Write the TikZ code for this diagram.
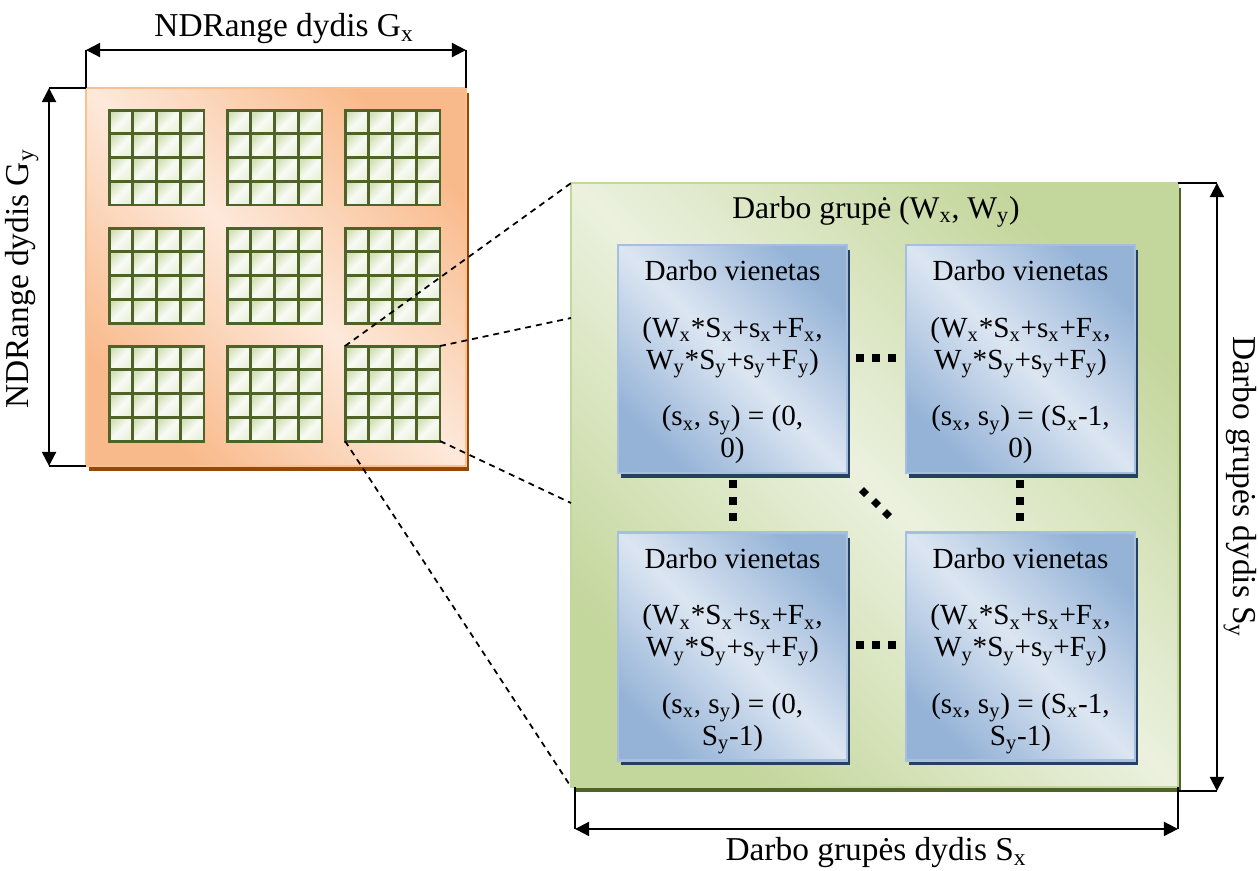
\documentclass[tikz,border=0pt]{standalone}
\usepackage{fontspec}
\setmainfont{Liberation Serif}
\usetikzlibrary{arrows.meta,positioning,shadows}

\definecolor{orangeLight}{HTML}{FDE9DB}
\definecolor{orangeDark}{HTML}{F9BA8B}
\definecolor{orangeEdge}{HTML}{FAC090}
\definecolor{orangeShadow}{HTML}{984806}
\definecolor{greenLight}{HTML}{EBF1DE}
\definecolor{greenDark}{HTML}{C3D69B}
\definecolor{greenShadow}{HTML}{4F6228}
\definecolor{blueLight}{HTML}{DCE6F2}
\definecolor{blueDark}{HTML}{95B3D7}
\definecolor{blueEdge}{HTML}{A7BFDE}
\definecolor{blueShadow}{HTML}{254061}
\definecolor{cellDark}{HTML}{D3E1B8}
\definecolor{cellLine}{HTML}{4F6228}

\newcommand{\wiLabel}[2]{Darbo vienetas\\[14pt]
(W\textsubscript{x}*S\textsubscript{x}+s\textsubscript{x}+F\textsubscript{x},\\
W\textsubscript{y}*S\textsubscript{y}+s\textsubscript{y}+F\textsubscript{y})\\[14pt]
(s\textsubscript{x}, s\textsubscript{y}) = (#1,\\ #2)}

\begin{document}
\begin{tikzpicture}[x=0.02cm,y=-0.02cm,>={Triangle[length=8pt,width=8pt]}]

\tikzset{
	ndRange/.style={
		draw=orangeEdge,
		line width=1.2pt,
		top color=orangeDark,
		bottom color=orangeDark,
		middle color=orangeLight,
		shading angle=-45,
		general shadow={fill=orangeShadow,shadow xshift=0.06cm,shadow yshift=-0.1cm},
		minimum width=7.6cm,
		minimum height=7.56cm,
		inner sep=0pt,
		outer sep=0pt
	}
}

\tikzset{
	workGroup/.style={
		draw=greenDark,
		line width=1.2pt,
		top color=greenDark,
		bottom color=greenDark,
		middle color=greenLight,
		shading angle=-45,
		general shadow={fill=greenShadow,shadow xshift=0.06cm,shadow yshift=-0.1cm},
		minimum width=12.14cm,
		minimum height=12.08cm,
		inner sep=0pt,
		outer sep=0pt
	}
}

\tikzset{
	workItem/.style={
		draw=blueEdge,
		line width=1.2pt,
		top color=blueDark,
		bottom color=blueDark,
		middle color=blueLight,
		shading angle=-45,
		general shadow={fill=blueShadow,shadow xshift=0.06cm,shadow yshift=-0.1cm},
		minimum width=4.58cm,
		minimum height=4.56cm,
		inner sep=0pt,
		outer sep=0pt
	}
}

\tikzset{
	blockBox/.style={minimum size=1.9cm,inner sep=0pt,outer sep=0pt},
	cellBox/.style={draw=cellLine,line width=1.7pt,top color=cellDark,bottom color=white!50!cellDark,middle color=white!85!cellDark,shading angle=45},
	wiText/.style={align=center,inner sep=0pt,font=\fontsize{16.6}{18.2}\selectfont},
	titleText/.style={inner sep=0pt,font=\fontsize{18}{21}\selectfont},
	dimLabel/.style={inner sep=0pt,font=\fontsize{19}{22}\selectfont},
	dimTick/.style={line width=0.9pt},
	dimArrow/.style={<->,line width=1.1pt},
	zoomLine/.style={line width=1pt,dash pattern=on 3.4pt off 2.8pt}
}

\useasboundingbox (0,0) rectangle (1258,870);

% NDRange with the 3x3 work groups
\node[ndRange](ndRange) at (276,277) {};

\foreach \bx in {0,1,2}{
	\foreach \by in {0,1,2}{
		\node[blockBox](blk\bx\by) at ({156.5+118*\bx},{157.5+118*\by}) {};
		\foreach \cx in {0,...,3}
			\foreach \cy in {0,...,3}
				\draw[cellBox] ([xshift=\cx*0.475cm,yshift=-\cy*0.475cm]blk\bx\by.north west) rectangle ++(23.75,23.75);
	}
}

% one work group, enlarged
\node[workGroup](workGroup) at (874.5,485) {};
\node[titleText](wgTitle) at (876,212) {Darbo grupė (W\textsubscript{x}, W\textsubscript{y})};

\node[workItem](wi00) at (732.5,359) {};
\node[workItem](wi10) at (1020.5,359) {};
\node[workItem](wi01) at (732.5,646.5) {};
\node[workItem](wi11) at (1020.5,646.5) {};

\node[wiText](wi00Text) [below=0.3cm of wi00.north] {\wiLabel{0}{0}};
\node[wiText](wi10Text) [below=0.3cm of wi10.north] {\wiLabel{S\textsubscript{x}-1}{0}};
\node[wiText](wi01Text) [below=0.3cm of wi01.north] {\wiLabel{0}{S\textsubscript{y}-1}};
\node[wiText](wi11Text) [below=0.3cm of wi11.north] {\wiLabel{S\textsubscript{x}-1}{S\textsubscript{y}-1}};

% dots between the work items
\foreach \dx in {860,876,892}{
	\fill ({\dx-4},354) rectangle ({\dx+4},362);
	\fill ({\dx-4},641) rectangle ({\dx+4},649);
}
\foreach \dy in {484,501,517}{
	\fill (729,{\dy-4}) rectangle (737,{\dy+4});
	\fill (1016,{\dy-4}) rectangle (1024,{\dy+4});
}
\foreach \dx/\dy in {864/492,876/503,887/514}
	\fill ({\dx},{\dy-5}) -- ({\dx+5},{\dy}) -- ({\dx},{\dy+5}) -- ({\dx-5},{\dy}) -- cycle;

% zoom lines
\coordinate (zoomA) at (571,318);
\coordinate (zoomB) at (571,503);
\draw[zoomLine] (blk22.north west) -- (workGroup.north west);
\draw[zoomLine] (blk22.north east) -- (zoomA);
\draw[zoomLine] (blk22.south east) -- (zoomB);
\draw[zoomLine] (blk22.south west) -- (workGroup.south west);

% dimensions
\draw[dimTick] (ndRange.north west) -- ++(0,-38) coordinate (gxL);
\draw[dimTick] (ndRange.north east) -- ++(0,-38) coordinate (gxR);
\draw[dimArrow] (gxL) -- (gxR);
\node[dimLabel](gxLabel) at (284,29) {NDRange dydis G\textsubscript{x}};

\draw[dimTick] (ndRange.north west) -- ++(-37,0) coordinate (gyT);
\draw[dimTick] (ndRange.south west) -- ++(-37,0) coordinate (gyB);
\draw[dimArrow] (gyT) -- (gyB);
\node[dimLabel,rotate=90](gyLabel) at (22,279) {NDRange dydis G\textsubscript{y}};

\draw[dimTick] (workGroup.north east) -- ++(39,0) coordinate (syT);
\draw[dimTick] ([yshift=-0.08cm]workGroup.south east) -- ++(39,0) coordinate (syB);
\draw[dimArrow] (syT) -- (syB);
\node[dimLabel,rotate=-90](syLabel) at (1240,487) {Darbo grupės dydis S\textsubscript{y}};

\draw[dimTick] ([xshift=0.08cm]workGroup.south west) -- ++(0,42) coordinate (sxL);
\draw[dimTick] (workGroup.south east) -- ++(0,42) coordinate (sxR);
\draw[dimArrow] (sxL) -- (sxR);
\node[dimLabel](sxLabel) at (876,853) {Darbo grupės dydis S\textsubscript{x}};

\end{tikzpicture}
\end{document}
